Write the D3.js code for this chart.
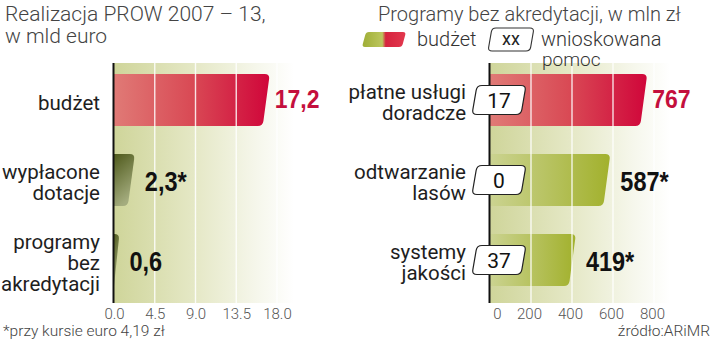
<!DOCTYPE html>
<html><head><meta charset="utf-8">
<script src="https://cdn.jsdelivr.net/npm/d3@7"></script>
<style>
body{margin:0;background:#fff}
svg{display:block}
</style>
</head><body>
<svg id="chart" width="720" height="341"></svg>
<script>
// Realizacja PROW 2007–13 (mld euro)
const leftCategories = [["budżet"], ["wypłacone", "dotacje"], ["programy", "bez", "akredytacji"]];
const leftValues = [17.2, 2.3, 0.6];
const leftValueLabels = ["17,2", "2,3*", "0,6"];
const leftTicks = [0, 4.5, 9, 13.5, 18];
const leftTickLabels = ["0.0", "4.5", "9.0", "13.5", "18.0"];

// Programy bez akredytacji (mln zł)
const rightCategories = [["płatne usługi", "doradcze"], ["odtwarzanie", "lasów"], ["systemy", "jakości"]];
const rightBudget = [767, 587, 419];
const rightBudgetLabels = ["767", "587*", "419*"];
const rightRequested = [17, 0, 37];
const rightTicks = [0, 200, 400, 600, 800];
const rightTickLabels = ["0", "200", "400", "600", "800"];

const svg = d3.select("#chart");
const defs = svg.append("defs");
const SANS = "Roboto, 'Liberation Sans', Arial, sans-serif";
const BOLD = "'Liberation Sans', Arial, sans-serif";

function linGrad(id, stops, x2 = 1, y2 = 0) {
  const g = defs.append("linearGradient").attr("id", id)
    .attr("x1", 0).attr("y1", 0).attr("x2", x2).attr("y2", y2);
  stops.forEach(([o, c]) => g.append("stop").attr("offset", o).attr("stop-color", c));
}
linGrad("bg", [[0, "#cfd59a"], [0.45, "#e5e8c6"], [0.8, "#f6f7ec"], [1, "#ffffff"]]);
linGrad("red", [[0, "#e07a76"], [0.5, "#d94a55"], [1, "#d0063a"]]);
linGrad("green", [[0, "#cbd391"], [1, "#a2b12d"]]);
linGrad("dark", [[0, "#4e591b"], [1, "#a4ac7e"]], 0.35, 1);
linGrad("legend", [[0, "#9fae36"], [0.46, "#bcc65e"], [0.54, "#d6243e"], [1, "#e2384e"]]);

// bar with a slanted, rounded right end
function barPath(x0, xt, y0, y1, slant, r) {
  const xb = Math.max(x0, xt - slant);
  const rt = Math.min(r, Math.max(0, xt - x0));
  const dx = xb - xt, dy = y1 - y0, L = Math.hypot(dx, dy);
  const rb = Math.min(r, Math.max(0, xb - x0));
  return `M${x0},${y0}H${xt - rt}Q${xt},${y0} ${xt + dx * rt / L},${y0 + dy * rt / L}` +
    `L${xb - dx * rb / L},${y1 - dy * rb / L}Q${xb},${y1} ${xb - rb},${y1}H${x0}Z`;
}

// rounded parallelogram
function slantBox(x, y, w, h, skew, r) {
  const p = [[x + skew, y], [x + w, y], [x + w - skew, y + h], [x, y + h]];
  let d = "";
  for (let i = 0; i < 4; i++) {
    const a = p[(i + 3) % 4], b = p[i], c = p[(i + 1) % 4];
    const la = Math.hypot(a[0] - b[0], a[1] - b[1]), lc = Math.hypot(c[0] - b[0], c[1] - b[1]);
    const s = [b[0] + (a[0] - b[0]) * r / la, b[1] + (a[1] - b[1]) * r / la];
    const e = [b[0] + (c[0] - b[0]) * r / lc, b[1] + (c[1] - b[1]) * r / lc];
    d += (i === 0 ? "M" : "L") + s[0] + "," + s[1] + "Q" + b[0] + "," + b[1] + " " + e[0] + "," + e[1];
  }
  return d + "Z";
}

const plotTop = 63, plotBottom = 303;

function panel(cfg) {
  const g = svg.append("g");
  const x = d3.scaleLinear().domain([cfg.ticks[0], cfg.ticks[cfg.ticks.length - 1]]).range(cfg.xRange);
  const y = d3.scaleBand().domain(d3.range(cfg.values.length)).range([60, 300])
    .paddingInner(0.35).paddingOuter(0.175);
  const x0 = x(0);

  g.append("rect").attr("x", x0).attr("y", plotTop)
    .attr("width", cfg.bgWidth).attr("height", plotBottom - plotTop).attr("fill", "url(#bg)");

  g.selectAll("path.bar").data(cfg.values).join("path").attr("class", "bar")
    .attr("d", (v, i) => barPath(x0, x(v), y(i), y(i) + y.bandwidth(), 7, 5))
    .attr("fill", (v, i) => i === 0 ? "url(#red)" : `url(#${cfg.otherFill})`);

  // grid lines run over the bars
  g.selectAll("line.grid").data(cfg.ticks.slice(1)).join("line").attr("class", "grid")
    .attr("x1", d => x(d)).attr("x2", d => x(d)).attr("y1", plotTop).attr("y2", plotBottom)
    .attr("stroke", "#fff").attr("stroke-width", 1.4).attr("stroke-opacity", 0.85);

  g.append("line").attr("x1", x0 - 0.5).attr("x2", x0 - 0.5).attr("y1", plotTop).attr("y2", plotBottom)
    .attr("stroke", "#111").attr("stroke-width", 2);

  // x axis tick labels
  const axis = d3.axisBottom(x).tickValues(cfg.ticks).tickSize(0).tickPadding(0)
    .tickFormat((d, i) => cfg.tickLabels[i]);
  const ax = g.append("g").attr("transform", `translate(0,${plotBottom})`).call(axis);
  ax.select(".domain").remove();
  ax.selectAll("text").attr("y", 16).attr("dy", 0)
    .attr("font-family", SANS).attr("font-weight", 300).attr("font-size", 15).attr("fill", "#555")
    .attr("dx", (d, i) => cfg.tickShift(i));

  // category labels
  cfg.categories.forEach((lines, i) => {
    const c = y(i) + y.bandwidth() / 2;
    const t = g.append("text").attr("text-anchor", "end")
      .attr("font-family", SANS).attr("font-size", 20.5).attr("fill", "#1e1e1e");
    lines.forEach((s, j) => {
      t.append("tspan").attr("x", cfg.labelX)
        .attr("y", c + 9.5 + (j - (lines.length - 1) / 2) * 21).text(s);
    });
  });

  // value labels, condensed bold
  g.selectAll("text.val").data(cfg.values).join("text").attr("class", "val")
    .attr("transform", (v, i) => {
      const c = y(i) + y.bandwidth() / 2;
      return i === 0
        ? `translate(${x(v) + 5},${c + 8}) scale(0.92,1)`
        : `translate(${x(v) + 10},${c + 11}) scale(0.87,1)`;
    })
    .attr("font-family", BOLD).attr("font-weight", 700)
    .attr("font-size", (v, i) => i === 0 ? 25 : 27)
    .attr("fill", (v, i) => i === 0 ? "#c40f3d" : "#111")
    .text((v, i) => cfg.valueLabels[i]);

  return { g, x, y };
}

panel({
  values: leftValues, valueLabels: leftValueLabels, categories: leftCategories,
  ticks: leftTicks, tickLabels: leftTickLabels, xRange: [114, 277], bgWidth: 180,
  labelX: 100, otherFill: "dark", tickShift: () => 0
});

const right = panel({
  values: rightBudget, valueLabels: rightBudgetLabels, categories: rightCategories,
  ticks: rightTicks, tickLabels: rightTickLabels, xRange: [490, 654], bgWidth: 180,
  labelX: 466, otherFill: "green", tickShift: i => i === 0 ? 7 : -2
});

// requested-aid boxes
right.g.selectAll("g.req").data(rightRequested).join("g").attr("class", "req")
  .each(function (v, i) {
    const c = right.y(i) + right.y.bandwidth() / 2;
    const b = d3.select(this);
    b.append("path").attr("d", slantBox(472, c - 14.5, 54, 29, 5, 5))
      .attr("fill", "#fff").attr("stroke", "#222").attr("stroke-width", 1.2);
    b.append("text").attr("x", 499).attr("y", c + 7.5).attr("text-anchor", "middle")
      .attr("font-family", SANS).attr("font-size", 21).attr("fill", "#111").text(v);
  });

// titles
const title = svg.append("text").attr("font-family", SANS).attr("font-weight", 300)
  .attr("font-size", 21).attr("fill", "#444");
title.append("tspan").attr("x", 5).attr("y", 21).text("Realizacja PROW 2007 – 13,");
title.append("tspan").attr("x", 5).attr("y", 43).text("w mld euro");

svg.append("text").attr("x", 378).attr("y", 21).attr("font-family", SANS).attr("font-weight", 300)
  .attr("font-size", 20).attr("fill", "#444").text("Programy bez akredytacji, w mln zł");

// legend
svg.append("path").attr("d", slantBox(362, 32, 44, 15, 4, 3)).attr("fill", "url(#legend)");
svg.append("text").attr("x", 417).attr("y", 46).attr("font-family", SANS).attr("font-weight", 300)
  .attr("font-size", 20).attr("fill", "#333").text("budżet");
svg.append("path").attr("d", slantBox(488, 28, 46, 23, 4, 4))
  .attr("fill", "#fff").attr("stroke", "#333").attr("stroke-width", 1.1);
svg.append("text").attr("x", 511).attr("y", 45).attr("text-anchor", "middle").attr("font-family", SANS)
  .attr("font-size", 18).attr("fill", "#222").text("xx");
svg.append("text").attr("x", 541).attr("y", 46).attr("font-family", SANS).attr("font-weight", 300)
  .attr("font-size", 20).attr("fill", "#333").text("wnioskowana");
svg.append("text").attr("x", 542).attr("y", 66).attr("font-family", SANS).attr("font-weight", 300)
  .attr("font-size", 19).attr("fill", "#333").text("pomoc");

// footnotes
svg.append("text").attr("x", 3).attr("y", 336).attr("font-family", SANS).attr("font-weight", 300)
  .attr("font-size", 15.5).attr("fill", "#444").text("*przy kursie euro 4,19 zł");
svg.append("text").attr("x", 710).attr("y", 336).attr("text-anchor", "end").attr("font-family", SANS)
  .attr("font-weight", 300).attr("font-size", 15.5).attr("fill", "#444").text("źródło:ARiMR");
</script>
</body></html>
